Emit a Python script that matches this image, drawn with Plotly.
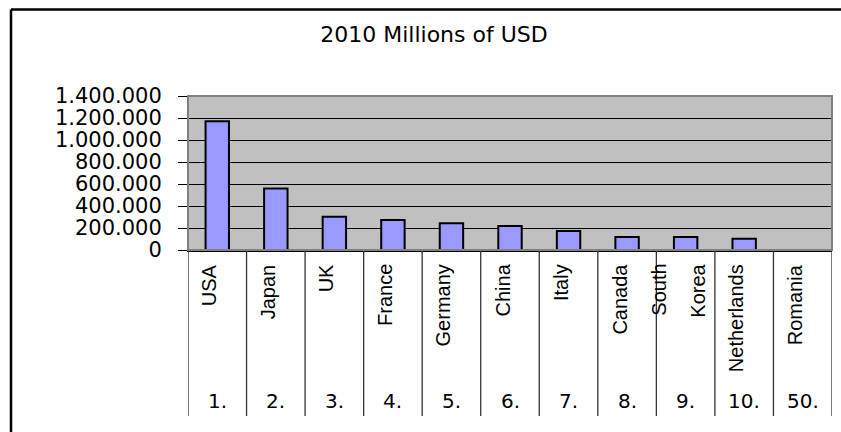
import plotly.graph_objects as go

# 2010 spending by country, millions of USD
countries = ["USA", "Japan", "UK", "France", "Germany", "China", "Italy",
             "Canada", "South Korea", "Netherlands", "Romania"]
values = [1170000, 560000, 303000, 273000, 243000, 218000, 173000,
          118000, 118000, 103000, 0]
ranks = ["1.", "2.", "3.", "4.", "5.", "6.", "7.", "8.", "9.", "10.", "50."]
y_ticks = [0, 200000, 400000, 600000, 800000, 1000000, 1200000, 1400000]

W, H = 841, 432
L, R, T, B = 188, 9, 96, 182
plot_h = H - T - B
plot_w = W - L - R


def py(pix):
    """Vertical pixel position -> paper coordinate."""
    return (H - B - pix) / plot_h


def px(pix):
    """Horizontal pixel position -> paper coordinate."""
    return (pix - L) / plot_w


fig = go.Figure()
fig.add_trace(go.Bar(
    x=countries, y=values,
    marker=dict(color="#9999FF", line=dict(color="black", width=2)),
    hoverinfo="x+y",
))

annotations = []
# rotated country names under each category
for i, name in enumerate(countries):
    words = name.split()
    if len(words) == 2:
        parts = [(words[0], -27), (words[1], 12)]
    else:
        parts = [(name, -8)]
    for txt, shift in parts:
        annotations.append(dict(
            x=i, xref="x", y=py(262), yref="paper",
            text=txt, showarrow=False, textangle=-90,
            xanchor="center", yanchor="top", xshift=shift,
            font=dict(family="Liberation Sans", size=20, color="black"),
        ))
# rank row
for i, rk in enumerate(ranks):
    annotations.append(dict(
        x=i, xref="x", y=py(401), yref="paper",
        text=rk, showarrow=False, xanchor="center", yanchor="middle",
        font=dict(family="DejaVu Sans", size=20, color="black"),
    ))

shapes = []
# column separators in the label area
for i in range(len(countries) + 1):
    shapes.append(dict(
        type="line", xref="x", yref="paper",
        x0=i - 0.5, x1=i - 0.5, y0=0, y1=py(416),
        line=dict(color="#333333", width=1.3),
    ))
# plot-area frame
shapes.append(dict(
    type="rect", xref="paper", yref="paper", x0=0, x1=1, y0=0, y1=1,
    line=dict(color="#808080", width=2), layer="above",
))
# chart border: top and left edges (the rest runs off the page)
shapes.append(dict(
    type="line", xref="paper", yref="paper",
    x0=px(11), x1=px(W), y0=py(9.5), y1=py(9.5),
    line=dict(color="black", width=2.5), layer="above",
))
shapes.append(dict(
    type="line", xref="paper", yref="paper",
    x0=px(11), x1=px(11), y0=py(9.5), y1=py(H),
    line=dict(color="black", width=2.5), layer="above",
))

fig.update_layout(
    width=W, height=H,
    margin=dict(l=L, r=R, t=T, b=B),
    paper_bgcolor="white",
    plot_bgcolor="#C0C0C0",
    separators=",.",
    showlegend=False,
    bargap=0.6,
    title=dict(
        text="2010 Millions of USD",
        xref="container", x=434 / W, xanchor="center",
        yref="container", y=1 - 34 / H, yanchor="middle",
        font=dict(family="DejaVu Sans", size=22, color="black"),
    ),
    xaxis=dict(
        showticklabels=False, ticks="", showgrid=False,
        showline=True, linecolor="black", linewidth=1.5,
        range=[-0.5, len(countries) - 0.5],
    ),
    yaxis=dict(
        range=[0, 1400000], tickvals=y_ticks, tickformat=",d",
        showgrid=True, gridcolor="black", gridwidth=1,
        zeroline=True, zerolinecolor="black", zerolinewidth=1.5,
        ticks="outside", ticklen=9, tickcolor="black", tickwidth=1,
        ticklabelstandoff=12,
        showline=True, linecolor="#808080", linewidth=1,
        tickfont=dict(family="DejaVu Sans", size=21, color="black"),
    ),
    annotations=annotations,
    shapes=shapes,
)

fig.write_html("out.html", config={"displayModeBar": False})
